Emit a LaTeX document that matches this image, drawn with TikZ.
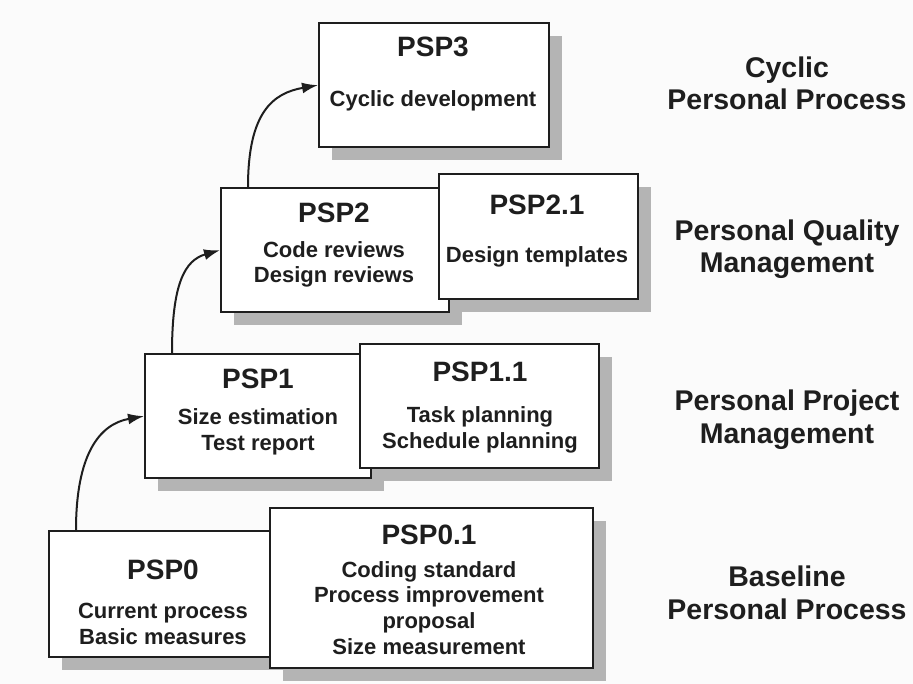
\documentclass[tikz,border=0pt]{standalone}
\usepackage{fontspec}
\setmainfont{Liberation Sans}
\usetikzlibrary{arrows.meta,shadows}
\definecolor{ink}{HTML}{1E1E1E}
\definecolor{shade}{HTML}{B4B4B4}
\definecolor{paper}{HTML}{FBFBFB}

\begin{document}
\begin{tikzpicture}[x=1pt,y=-1pt,
  stage/.style={draw=ink, line width=2.3pt, fill=white, inner sep=0pt, anchor=north west,
    general shadow={fill=shade, shadow xshift=13pt, shadow yshift=-13pt}},
  level/.style={font=\bfseries\fontsize{28}{28}\selectfont, text=ink, anchor=base},
  detail/.style={font=\bfseries\fontsize{22}{25.6}\selectfont, text=ink, align=center, anchor=base},
  phase/.style={font=\bfseries\fontsize{28.5}{32.5}\selectfont, text=ink, align=center, anchor=base},
  flow/.style={draw=ink, line width=2pt, -{Latex[length=16pt,width=11pt]}}
]
\useasboundingbox[fill=paper] (0,0) rectangle (913,684);

% stage boxes, lowest level first so each extension box sits on top
\node[stage, minimum width=230pt, minimum height=126pt] (psp0)  at (48,530) {};
\node[stage, minimum width=323pt, minimum height=160pt] (psp01) at (269,507) {};
\node[stage, minimum width=226pt, minimum height=124pt] (psp1)  at (144,353) {};
\node[stage, minimum width=239pt, minimum height=124pt] (psp11) at (359,343) {};
\node[stage, minimum width=228pt, minimum height=124pt] (psp2)  at (220,187) {};
\node[stage, minimum width=199pt, minimum height=125pt] (psp21) at (438,173) {};
\node[stage, minimum width=230pt, minimum height=124pt] (psp3)  at (318,22) {};

% box titles and contents (multi-line texts sit on the baseline of their last line)
\node[level]  (t0)  at (163,579) {PSP0};
\node[detail] (d0)  at (163,644) {Current process\\Basic measures};
\node[level]  (t01) at (429,544) {PSP0.1};
\node[detail] (d01) at (429,654) {Coding standard\\Process improvement\\proposal\\Size measurement};
\node[level]  (t1)  at (258,389) {PSP1};
\node[detail] (d1)  at (258,450) {Size estimation\\Test report};
\node[level]  (t11) at (480,382) {PSP1.1};
\node[detail] (d11) at (480,448) {Task planning\\Schedule planning};
\node[level]  (t2)  at (334,223) {PSP2};
\node[detail] (d2)  at (334,283) {Code reviews\\Design reviews};
\node[level]  (t21) at (537,215) {PSP2.1};
\node[detail] (d21) at (537,263) {Design templates};
\node[level]  (t3)  at (433,57)  {PSP3};
\node[detail] (d3)  at (433,107) {Cyclic development};

% level names on the right
\node[phase] (p3) at (787,110) {Cyclic\\Personal Process};
\node[phase] (p2) at (787,273) {Personal Quality\\Management};
\node[phase] (p1) at (787,443) {Personal Project\\Management};
\node[phase] (p0) at (787,619) {Baseline\\Personal Process};

% progression arrows
\draw[flow] ([xshift=28pt]psp0.north west) .. controls +(0,-75) and +(-45,8) .. (psp1.west);
\draw[flow] ([xshift=28pt]psp1.north west) .. controls +(0,-70) and +(-35,10) .. (psp2.west);
\draw[flow] ([xshift=28pt]psp2.north west) .. controls +(0,-75) and +(-45,8) .. (psp3.west);
\end{tikzpicture}
\end{document}
